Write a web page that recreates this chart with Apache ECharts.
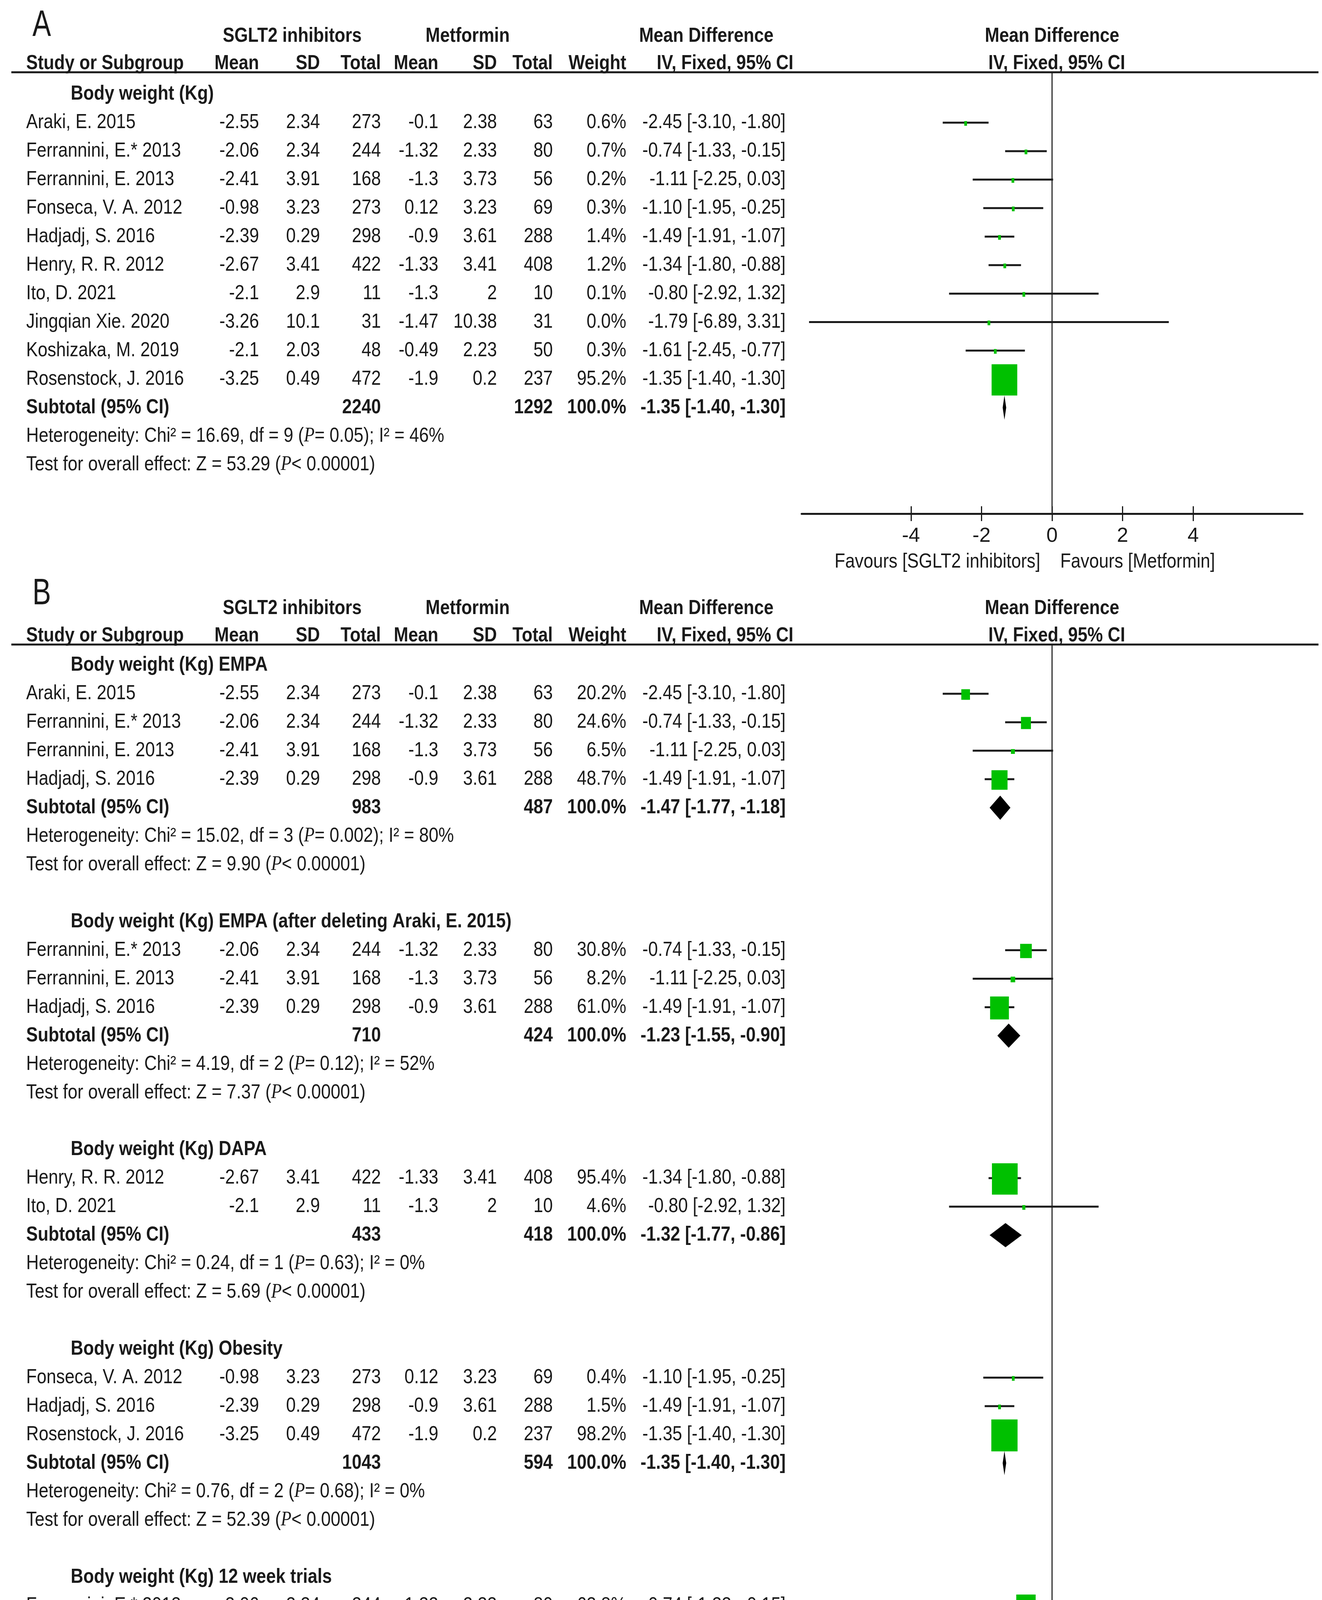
<!DOCTYPE html>
<html><head><meta charset="utf-8">
<script src="https://cdn.jsdelivr.net/npm/echarts@6/dist/echarts.min.js"></script>
<style>html,body{margin:0;padding:0;background:#fff}#c{width:3384px;height:5503px}</style>
</head><body><div id="c"></div><script>
// ---------- study-level data ----------
const studyNames = ['Araki, E. 2015','Ferrannini, E.* 2013','Ferrannini, E. 2013','Fonseca, V. A. 2012','Hadjadj, S. 2016','Henry, R. R. 2012','Ito, D. 2021','Jingqian Xie. 2020','Koshizaka, M. 2019','Rosenstock, J. 2016'];
const sgltMean = [-2.55,-2.06,-2.41,-0.98,-2.39,-2.67,-2.1,-3.26,-2.1,-3.25];
const sgltSD   = [2.34,2.34,3.91,3.23,0.29,3.41,2.9,10.1,2.03,0.49];
const sgltN    = [273,244,168,273,298,422,11,31,48,472];
const metMean  = [-0.1,-1.32,-1.3,0.12,-0.9,-1.33,-1.3,-1.47,-0.49,-1.9];
const metSD    = [2.38,2.33,3.73,3.23,3.61,3.41,2,10.38,2.23,0.2];
const metN     = [63,80,56,69,288,408,10,31,50,237];
const mdEst    = [-2.45,-0.74,-1.11,-1.10,-1.49,-1.34,-0.80,-1.79,-1.61,-1.35];
const mdLow    = [-3.10,-1.33,-2.25,-1.95,-1.91,-1.80,-2.92,-6.89,-2.45,-1.40];
const mdHigh   = [-1.80,-0.15,0.03,-0.25,-1.07,-0.88,1.32,3.31,-0.77,-1.30];

// ---------- panel A ----------
const aTitles   = ['Body weight (Kg)'];
const aStudies  = [[0,1,2,3,4,5,6,7,8,9]];
const aWeights  = [[0.6,0.7,0.2,0.3,1.4,1.2,0.1,0.0,0.3,95.2]];
const aTotSglt  = [2240];
const aTotMet   = [1292];
const aSubMD    = [-1.35];
const aSubLow   = [-1.40];
const aSubHigh  = [-1.30];
const aHetChi   = [16.69];
const aHetDf    = [9];
const aHetP     = ['= 0.05'];
const aHetI2    = [46];
const aTestZ    = [53.29];
const aTestP    = ['< 0.00001'];

// ---------- panel B ----------
const bTitles   = ['Body weight (Kg) EMPA','Body weight (Kg) EMPA (after deleting Araki, E. 2015)','Body weight (Kg) DAPA','Body weight (Kg) Obesity','Body weight (Kg) 12 week trials','Body weight (Kg) 24-26 week trials'];
const bStudies  = [[0,1,2,4],[1,2,4],[5,6],[3,4,9],[1,3,6,7],[4,5,8,9]];
const bWeights  = [[20.2,24.6,6.5,48.7],[30.8,8.2,61.0],[95.4,4.6],[0.4,1.5,98.2],[63.8,30.4,4.9,0.9],[1.4,1.2,0.4,97.0]];
const bTotSglt  = [983,710,433,1043,559,1240];
const bTotMet   = [487,424,418,594,190,983];
const bSubMD    = [-1.47,-1.23,-1.32,-1.35,-0.86,-1.35];
const bSubLow   = [-1.77,-1.55,-1.77,-1.40,-1.33,-1.40];
const bSubHigh  = [-1.18,-0.90,-0.86,-1.30,-0.39,-1.30];
const bHetChi   = [15.02,4.19,0.24,0.76,0.59,0.78];
const bHetDf    = [3,2,1,2,3,3];
const bHetP     = ['= 0.002','= 0.12','= 0.63','= 0.68','= 0.90','= 0.85'];
const bHetI2    = [80,52,0,0,0,0];
const bTestZ    = [9.90,7.37,5.69,52.39,3.59,52.77];
const bTestP    = ['< 0.00001','< 0.00001','< 0.00001','< 0.00001','= 0.0003','< 0.00001'];

// ---------- axis ----------
const tickValues = [-4,-2,0,2,4];
const xMin = -7.1, xMax = 7.1;
const favoursLeft = 'Favours [SGLT2 inhibitors]';
const favoursRightA = 'Favours [Metformin]';
const favoursRightB = 'Favours [Metfromin]';

// ---------- layout / style ----------
const FONT = "'Liberation Sans', Arial, sans-serif";
const FS = 52, SX = 0.857, INK = '#1a1a1a', GREEN = '#00c000';
const ROW = 72.95;
const RICH = { i: { fontStyle: 'italic', fontFamily: "'Liberation Serif', serif", fontSize: FS, fill: INK } };
const COL = { name: 67, title: 181, m1: 663, s1: 819, n1: 975, m2: 1122, s2: 1272, n2: 1415, w: 1603, ci: 2011 };
const fmt2 = v => v.toFixed(2);
const ciText = (m, l, h) => fmt2(m) + ' [' + fmt2(l) + ', ' + fmt2(h) + ']';

function buildPanel(P) {
  const cells = [], forest = [], diamonds = [];
  // headers
  cells.push({ row: P.labelRow, x: 83, align: 'left', text: P.label, size: 95, sx: 0.75 });
  const r1 = P.h1Row, r2 = P.h2Row;
  cells.push({ row: r1, x: 748, align: 'center', text: 'SGLT2 inhibitors', bold: 1 });
  cells.push({ row: r1, x: 1197, align: 'center', text: 'Metformin', bold: 1 });
  cells.push({ row: r1, x: 1808, align: 'center', text: 'Mean Difference', bold: 1 });
  cells.push({ row: r1, x: 0, rel: 1, align: 'center', text: 'Mean Difference', bold: 1 });
  cells.push({ row: r2, x: COL.name, align: 'left', text: 'Study or Subgroup', bold: 1 });
  [['Mean', COL.m1], ['SD', COL.s1], ['Total', COL.n1], ['Mean', COL.m2], ['SD', COL.s2], ['Total', COL.n2], ['Weight', COL.w], ['IV, Fixed, 95% CI', 2031]]
    .forEach(([t, x]) => cells.push({ row: r2, x: x, align: 'right', text: t, bold: 1 }));
  cells.push({ row: r2, x: 12, rel: 1, align: 'center', text: 'IV, Fixed, 95% CI', bold: 1 });
  cells.push({ row: P.yMin, type: 'hline', x1: 29, x2: 3375 });
  // groups
  let r = 0;
  P.titles.forEach((title, g) => {
    cells.push({ row: r, x: COL.title, align: 'left', text: title, bold: 1 });
    P.studies[g].forEach((s, k) => {
      const rr = r + 1 + k, w = P.weights[g][k];
      cells.push({ row: rr, x: COL.name, align: 'left', text: studyNames[s] });
      cells.push({ row: rr, x: COL.m1, align: 'right', text: String(sgltMean[s]) });
      cells.push({ row: rr, x: COL.s1, align: 'right', text: String(sgltSD[s]) });
      cells.push({ row: rr, x: COL.n1, align: 'right', text: String(sgltN[s]) });
      cells.push({ row: rr, x: COL.m2, align: 'right', text: String(metMean[s]) });
      cells.push({ row: rr, x: COL.s2, align: 'right', text: String(metSD[s]) });
      cells.push({ row: rr, x: COL.n2, align: 'right', text: String(metN[s]) });
      cells.push({ row: rr, x: COL.w, align: 'right', text: w.toFixed(1) + '%' });
      cells.push({ row: rr, x: COL.ci, align: 'right', text: ciText(mdEst[s], mdLow[s], mdHigh[s]) });
      forest.push([mdEst[s], rr, mdLow[s], mdHigh[s], w]);
    });
    const rs = r + 1 + P.studies[g].length;
    cells.push({ row: rs, x: COL.name, align: 'left', text: 'Subtotal (95% CI)', bold: 1 });
    cells.push({ row: rs, x: COL.n1, align: 'right', text: String(P.totS[g]), bold: 1 });
    cells.push({ row: rs, x: COL.n2, align: 'right', text: String(P.totM[g]), bold: 1 });
    cells.push({ row: rs, x: COL.w, align: 'right', text: '100.0%', bold: 1 });
    cells.push({ row: rs, x: COL.ci, align: 'right', text: ciText(P.subMD[g], P.subLow[g], P.subHigh[g]), bold: 1 });
    diamonds.push([P.subMD[g], rs, P.subLow[g], P.subHigh[g]]);
    cells.push({ row: rs + 1, x: COL.name, align: 'left',
      text: 'Heterogeneity: Chi\u00b2 = ' + fmt2(P.hetChi[g]) + ', df = ' + P.hetDf[g] + ' ({i|P}' + P.hetP[g] + '); I\u00b2 = ' + P.hetI2[g] + '%' });
    cells.push({ row: rs + 2, x: COL.name, align: 'left',
      text: 'Test for overall effect: Z = ' + fmt2(P.testZ[g]) + ' ({i|P}' + P.testP[g] + ')' });
    r = rs + 4;
  });
  // favours labels under the axis
  cells.push({ row: P.favRow, x: -30, rel: 1, align: 'right', text: favoursLeft });
  cells.push({ row: P.favRow, x: 21, rel: 1, align: 'left', text: P.favRight });
  return { cells, forest, diamonds };
}

function panelGeom(lineY, row0Y, axisY) {
  return { top: lineY, height: axisY - lineY, yMin: (lineY - row0Y) / ROW, yMax: (axisY - row0Y) / ROW };
}
const gA = panelGeom(185, 241, 1315);
const gB = panelGeom(1650, 1703, 5325);

const PA = buildPanel({ label: 'A', labelRow: (66 - 241) / ROW, h1Row: (93 - 241) / ROW, h2Row: (163 - 241) / ROW, yMin: gA.yMin,
  favRow: (1439 - 241) / ROW, favRight: favoursRightA,
  titles: aTitles, studies: aStudies, weights: aWeights, totS: aTotSglt, totM: aTotMet, subMD: aSubMD, subLow: aSubLow, subHigh: aSubHigh,
  hetChi: aHetChi, hetDf: aHetDf, hetP: aHetP, hetI2: aHetI2, testZ: aTestZ, testP: aTestP });
const PB = buildPanel({ label: 'B', labelRow: (1521 - 1703) / ROW, h1Row: (1558 - 1703) / ROW, h2Row: (1628 - 1703) / ROW, yMin: gB.yMin,
  favRow: (5453 - 1703) / ROW, favRight: favoursRightB,
  titles: bTitles, studies: bStudies, weights: bWeights, totS: bTotSglt, totM: bTotMet, subMD: bSubMD, subLow: bSubLow, subHigh: bSubHigh,
  hetChi: bHetChi, hetDf: bHetDf, hetP: bHetP, hetI2: bHetI2, testZ: bTestZ, testP: bTestP });

function textRender(cells) {
  return function (params, api) {
    const c = cells[params.dataIndex];
    const pt = api.coord([0, api.value(1)]);
    if (c.type === 'hline') {
      return { type: 'line', shape: { x1: c.x1, y1: pt[1], x2: c.x2, y2: pt[1] }, style: { stroke: INK, lineWidth: 5 } };
    }
    return { type: 'text', x: c.rel ? pt[0] + c.x : c.x, y: pt[1], scaleX: c.sx || SX,
      style: { text: c.text, x: 0, y: 0, align: c.align, verticalAlign: 'middle', fontSize: c.size || FS,
        fontWeight: c.bold ? 'bold' : 'normal', fontFamily: FONT, fill: INK, rich: RICH } };
  };
}
function forestRender(params, api) {
  const y = api.value(1);
  const p = api.coord([api.value(0), y]), pl = api.coord([api.value(2), y]), ph = api.coord([api.value(3), y]);
  const bw = Math.max(7, 68 * Math.pow(api.value(4) / 100, 0.7));
  const bh = Math.max(12, 1.22 * bw);
  return { type: 'group', children: [
    { type: 'line', shape: { x1: pl[0], y1: p[1], x2: ph[0], y2: p[1] }, style: { stroke: INK, lineWidth: 5 } },
    { type: 'rect', shape: { x: p[0] - bw / 2, y: p[1] - bh / 2 + 2, width: bw, height: bh }, style: { fill: GREEN } }
  ] };
}
function diamondRender(params, api) {
  const y = api.value(1);
  const p = api.coord([api.value(0), y]), pl = api.coord([api.value(2), y]), ph = api.coord([api.value(3), y]);
  return { type: 'polygon', shape: { points: [[pl[0], p[1]], [p[0], p[1] - 31], [ph[0], p[1]], [p[0], p[1] + 31]] }, style: { fill: '#000' } };
}

function xAxes(gi) {
  return [
    { gridIndex: gi, type: 'value', min: xMin, max: xMax, position: 'bottom',
      axisLine: { show: true, onZero: false, lineStyle: { color: INK, width: 5 } },
      axisTick: { show: true, customValues: tickValues, length: 19, lineStyle: { color: INK, width: 3 } },
      axisLabel: { show: true, customValues: tickValues, margin: 32, fontSize: FS, color: INK, fontFamily: FONT },
      splitLine: { show: false } },
    { gridIndex: gi, type: 'value', min: xMin, max: xMax, position: 'bottom',
      axisLine: { show: false, onZero: false },
      axisTick: { show: true, inside: true, customValues: tickValues, length: 19, lineStyle: { color: INK, width: 3 } },
      axisLabel: { show: false }, splitLine: { show: false } }
  ];
}
function yAxis(gi, g) {
  return { gridIndex: gi, type: 'value', inverse: true, min: g.yMin, max: g.yMax, show: false,
    axisLine: { show: false }, axisTick: { show: false }, axisLabel: { show: false }, splitLine: { show: false } };
}
function panelSeries(xi, yi, g, P) {
  return [
    { type: 'line', xAxisIndex: xi, yAxisIndex: yi, data: [[0, g.yMin], [0, g.yMax]], symbol: 'none', silent: true,
      lineStyle: { color: '#2a2a2a', width: 3 }, z: 1 },
    { type: 'custom', xAxisIndex: xi, yAxisIndex: yi, data: P.cells.map(c => [0, c.row]), renderItem: textRender(P.cells), silent: true, z: 3 },
    { type: 'custom', xAxisIndex: xi, yAxisIndex: yi, data: P.forest, renderItem: forestRender, silent: true, z: 4 },
    { type: 'custom', xAxisIndex: xi, yAxisIndex: yi, data: P.diamonds, renderItem: diamondRender, silent: true, z: 4 }
  ];
}

const chart = echarts.init(document.getElementById('c'), null, { renderer: 'canvas' });
chart.setOption({
  backgroundColor: '#fff',
  animation: false,
  grid: [
    { left: 2052, width: 1282, top: gA.top, height: gA.height, containLabel: false },
    { left: 2052, width: 1282, top: gB.top, height: gB.height, containLabel: false }
  ],
  xAxis: xAxes(0).concat(xAxes(1)),
  yAxis: [yAxis(0, gA), yAxis(1, gB)],
  series: panelSeries(0, 0, gA, PA).concat(panelSeries(2, 1, gB, PB))
});
</script></body></html>
